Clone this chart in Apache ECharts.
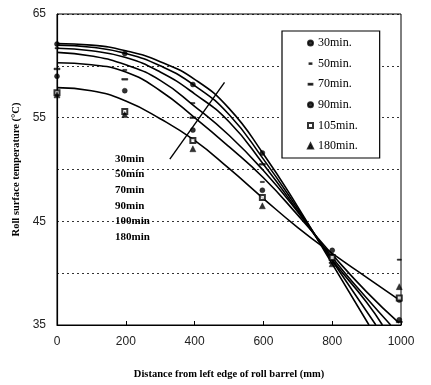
<!DOCTYPE html>
<html>
<head>
<meta charset="utf-8">
<script src="https://cdn.jsdelivr.net/npm/echarts@6/dist/echarts.min.js"></script>
<style>
html,body{margin:0;padding:0;background:#fff;}
#main{width:431px;height:385px;}
</style>
</head>
<body>
<div id="main"></div>
<script>
// calculated curves [distance, temperature]
var curve30 = [[0,62.15],[100,62.0],[200,61.45],[300,60.4],[400,58.7],[500,55.9],[600,51.5],[700,46.4],[800,40.9],[907,35]];
var curve50 = [[0,62.0],[100,61.8],[200,61.2],[300,60.0],[400,58.1],[500,55.3],[600,51.0],[700,46.2],[800,41.2],[927,35]];
var curve70 = [[0,61.7],[100,61.45],[200,60.8],[300,59.4],[400,57.3],[500,54.6],[600,50.5],[700,46.0],[800,41.3],[900,37.2],[946,35]];
var curve90 = [[0,61.3],[100,60.95],[200,60.1],[300,58.6],[400,56.1],[500,53.3],[600,49.9],[700,45.9],[800,41.5],[900,37.6],[970,35]];
var curve105 = [[0,60.3],[100,60.1],[200,59.4],[300,57.6],[400,55.0],[500,52.2],[600,49.2],[700,45.6],[800,41.8],[900,38.2],[994,35.2]];
var curve180 = [[0,57.9],[100,57.6],[200,56.6],[300,54.9],[400,52.8],[500,50.1],[600,47.2],[700,44.4],[800,41.9],[900,39.6],[1000,37.3]];

// measured points
var measX = [0,197,395,597,800,995];
var meas30 = [62.1,61.2,58.2,51.6,41.6,35.5];
var meas50 = [61.7,59.6,56.4,48.8,41.3,41.3];
var meas70 = [59.7,58.7,55.0,50.5,41.0,35.3];
var meas90 = [59.0,57.6,53.8,48.0,42.2,37.4];
var meas105 = [57.4,55.6,52.8,47.3,41.5,37.6];
var meas180 = [57.2,55.3,52.0,46.5,40.9,38.7];

var legendNames = ['30min.','50min.','70min.','90min.','105min.','180min.'];
var arrowLine = [[328,51.0],[487,58.4]];
var arrowLabels = ['30min','50min','70min','90min','100min','180min'];

var SERIF = '"Liberation Serif", "DejaVu Serif", serif';
var SANS = '"Liberation Sans", Arial, sans-serif';

function pairs(xs, ys){
	var out = [];
	for(var i=0;i<xs.length;i++){ out.push([xs[i], ys[i]]); }
	return out;
}

function curveSeries(name, data){
	return {
		name:name, type:'line', data:data, smooth:0.5,
		showSymbol:false, symbol:'none', silent:true, z:2,
		lineStyle:{color:'#000', width:1.6}
	};
}

function measSeries(name, ys, symbol, size){
	return {
		name:name, type:'scatter', data:pairs(measX, ys),
		symbol:symbol, symbolSize:size, z:3,
		itemStyle:{color:'#000', borderColor:'#000', borderWidth:0.5}
	};
}

// dash icons for the legend (moveTo points keep the box square)
var dashShort = 'path://M0,0M8,8M2.5,3.6L5.5,3.6L5.5,4.5L2.5,4.5Z';
var dashLong = 'path://M0,0M8,8M1,3.4L7,3.4L7,4.7L1,4.7Z';

function showChart(){
	var myChart = echarts.init(document.getElementById('main'), null, {renderer:'canvas'});
	var labelGraphics = [];
	for(var i=0;i<arrowLabels.length;i++){
		labelGraphics.push({
			type:'text', left:115, top:[154,169,185,201,216,232][i],
			style:{text:arrowLabels[i], fill:'#000', font:'bold 11px ' + SERIF}
		});
	}
	var option = {
		animation:false,
		backgroundColor:'#fff',
		grid:{left:57, right:30, top:14, bottom:58, show:true, borderColor:'#000', borderWidth:1},
		legend:{
			orient:'vertical', left:282, top:31,
			padding:[6,22,6,25], itemGap:8.6, itemWidth:5, itemHeight:5,
			borderColor:'#000', borderWidth:1.2, backgroundColor:'#fff',
			textStyle:{fontFamily:SERIF, fontSize:12, color:'#000'},
			data:[
				{name:'30min.', icon:'circle'},
				{name:'50min.', icon:dashShort},
				{name:'70min.', icon:dashLong},
				{name:'90min.', icon:'circle'},
				{name:'105min.', icon:'emptyRect'},
				{name:'180min.', icon:'triangle'}
			]
		},
		xAxis:{
			type:'value', min:0, max:1000, interval:200,
			name:'Distance from left edge of roll barrel (mm)',
			nameLocation:'middle', nameGap:44,
			nameTextStyle:{fontFamily:SERIF, fontWeight:'bold', fontSize:10.5, color:'#000'},
			axisLine:{show:true, lineStyle:{color:'#000', width:1.2}},
			axisTick:{show:true, inside:true, length:4, lineStyle:{color:'#000'}},
			axisLabel:{fontFamily:SANS, fontSize:12, color:'#222', margin:11,
				formatter:function(v){ return String(v); }},
			splitLine:{show:false}
		},
		yAxis:{
			type:'value', min:35, max:65, interval:5,
			name:'Roll surface temperature (\u00b0C)',
			nameLocation:'middle', nameGap:33, nameRotate:90,
			nameTextStyle:{fontFamily:SERIF, fontWeight:'bold', fontSize:10.5, color:'#000'},
			axisLine:{show:true, lineStyle:{color:'#000', width:1.2}},
			axisTick:{show:false},
			axisLabel:{fontFamily:SANS, fontSize:12, color:'#222', margin:11,
				formatter:function(v){ return (v - 35) % 10 === 0 ? String(v) : ''; }},
			splitLine:{show:true, lineStyle:{color:'#000', type:[2,3], width:0.8}}
		},
		graphic:labelGraphics,
		series:[
			curveSeries('c30', curve30),
			curveSeries('c50', curve50),
			curveSeries('c70', curve70),
			curveSeries('c90', curve90),
			curveSeries('c105', curve105),
			curveSeries('c180', curve180),
			{
				name:'arrow', type:'line', data:arrowLine, symbol:'none', silent:true,
				lineStyle:{color:'#000', width:1.4}
			},
			measSeries('30min.', meas30, 'circle', 5),
			measSeries('50min.', meas50, 'rect', [4,1.2]),
			measSeries('70min.', meas70, 'rect', [6,1.6]),
			measSeries('90min.', meas90, 'circle', 5),
			{
				name:'105min.', type:'scatter', data:pairs(measX, meas105),
				symbol:'emptyRect', symbolSize:5, z:3,
				itemStyle:{color:'#000', borderColor:'#000', borderWidth:1.2}
			},
			measSeries('180min.', meas180, 'triangle', 6)
		]
	};
	myChart.setOption(option);
}

showChart();
</script>
</body>
</html>
